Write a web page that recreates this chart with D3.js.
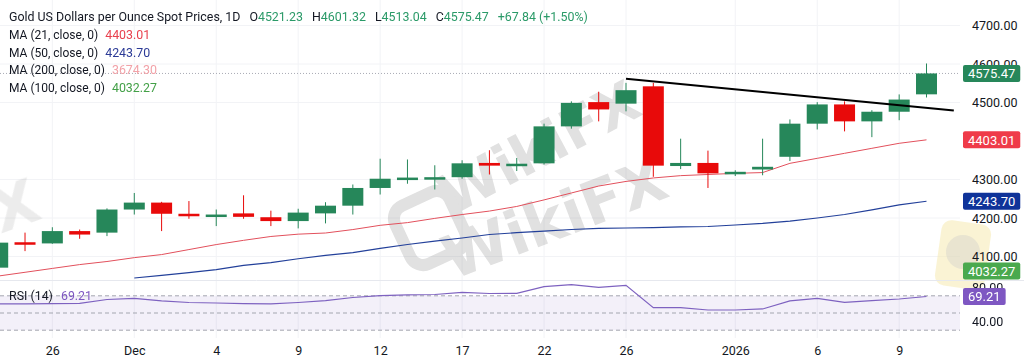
<!DOCTYPE html>
<html>
<head>
<meta charset="utf-8">
<script src="https://cdn.jsdelivr.net/npm/d3@7"></script>
<style>
  body { margin: 0; background: #fff; }
  svg { display: block; font-family: Roboto, "Noto Sans", sans-serif; }
</style>
</head>
<body>
<div id="chart"></div>
<script>
// daily bars, Nov 24 2025 -> Jan 12 2026
const dates = ["2025-11-24","2025-11-25","2025-11-26","2025-11-27","2025-11-28",
  "2025-12-01","2025-12-02","2025-12-03","2025-12-04","2025-12-05",
  "2025-12-08","2025-12-09","2025-12-10","2025-12-11","2025-12-12",
  "2025-12-15","2025-12-16","2025-12-17","2025-12-18","2025-12-19",
  "2025-12-22","2025-12-23","2025-12-24","2025-12-26",
  "2025-12-29","2025-12-30","2025-12-31","2026-01-01","2026-01-02",
  "2026-01-05","2026-01-06","2026-01-07","2026-01-08","2026-01-09","2026-01-12"];
const open  = [4071,4137,4134,4166,4162,4222,4240,4211,4206,4212,4202,4192,4212,4232,4278,4302,4303,4306,4343,4336,
  4342,4438,4501,4497,4542,4335,4343,4315,4326,4359,4445,4495,4451,4476,4521.23];
const high  = [4142,4162,4176,4170,4225,4265,4242,4244,4222,4259,4219,4224,4241,4287,4354,4352,4337,4350,4376,4356,
  4445,4503,4528,4551,4551,4406,4375,4324,4406,4456,4501,4503,4480,4521,4601.32];
const low   = [4065,4114,4133,4146,4153,4209,4166,4198,4179,4198,4179,4173,4186,4209,4261,4289,4274,4302,4313,4322,
  4339,4432,4451,4477,4307,4327,4278,4309,4311,4348,4430,4425,4410,4454,4513.04];
const close = [4136,4134,4166,4157,4222,4240,4211,4206,4209,4203,4192,4214,4232,4278,4302,4305,4306,4342,4336,4341,
  4438,4499,4482,4532,4336,4343,4316,4320,4333,4445,4495,4451,4476,4507.63,4575.47];
const ma21 = [4049,4059,4069,4079,4087,4097,4105,4118,4131,4142,4152,4158,4161,4170,4181,4188,4199,4209,4218,4230,
  4247,4265,4283,4295,4304,4310,4313,4316,4318,4342,4355,4368,4381,4394,4403.01];
const ma50 = [null,null,null,null,null,4044,4051,4058,4066,4077,4084,4094,4103,4110,4121,4131,4140,4148,4157,4162,
  4166,4170,4173,4174,4175,4177,4178,4182,4186,4192,4200,4209,4221,4234,4243.70];
const rsi = [60.5,60.5,60.8,61.3,65.7,67.1,64.0,62.2,61.6,61.0,60.5,62.2,64.5,68.0,70.3,71.0,71.5,74.0,72.7,72.9,
  80.6,82.9,79.9,82.2,56.2,56.2,53.5,53.5,54.7,64.0,67.1,62.4,64.3,66.3,69.21];

// hand-drawn resistance line (bar index, price)
const trendIdx = [23, 35];
const trendPrice = [4562, 4479];

const priceTicks = [4100, 4200, 4300, 4500, 4600, 4700]; // 4400 sits under the MA21 tag
const rsiTicks = [40, 80];
const rsiBands = [70, 50, 30];
const tickDates = ["2025-11-26","2025-12-01","2025-12-04","2025-12-09","2025-12-12","2025-12-17",
  "2025-12-22","2025-12-26","2026-01-01","2026-01-06","2026-01-09"];
const tickLabels = ["26","Dec","4","9","12","17","22","26","2026","6","9"];

const width = 1024, height = 364;
const plotRight = 960, mainBottom = 280, rsiTop = 281, rsiBottom = 338;
const green = "#26875a", red = "#e80a0a";

const svg = d3.select("#chart").append("svg")
  .attr("width", width).attr("height", height);

const x = d3.scaleLinear().domain([0, dates.length - 1]).range([-2.3, 926.5]);
const y = d3.scaleLinear().domain([4100, 4700]).range([256.5, 25.5]);
const yr = d3.scaleLinear().domain([30, 70]).range([330.2, 295.8]);
const bodyW = 21;

svg.append("clipPath").attr("id", "mainClip")
  .append("rect").attr("x", 0).attr("y", 0).attr("width", plotRight).attr("height", mainBottom);
svg.append("clipPath").attr("id", "rsiClip")
  .append("rect").attr("x", 0).attr("y", rsiTop).attr("width", plotRight).attr("height", rsiBottom - rsiTop);

// grid
const grid = svg.append("g");
grid.selectAll(".vg").data(tickDates).enter().append("line")
  .attr("x1", d => x(dates.indexOf(d))).attr("x2", d => x(dates.indexOf(d)))
  .attr("y1", 0).attr("y2", rsiBottom)
  .attr("stroke", "#f2f3f6");
grid.selectAll(".hg").data(priceTicks).enter().append("line")
  .attr("x1", 0).attr("x2", plotRight)
  .attr("y1", d => y(d)).attr("y2", d => y(d))
  .attr("stroke", "#f2f3f6");

// watermark
const wm = svg.append("g").attr("fill", "#8a8a8a").attr("opacity", 0.26)
  .style("font-weight", "bold").style("font-family", "DejaVu Sans, sans-serif");
wm.append("text").attr("transform", "translate(548,165) rotate(-28)")
  .attr("text-anchor", "middle").attr("font-size", 56).text("WikiFX");
wm.append("text").attr("transform", "translate(562,238) rotate(-21)")
  .attr("text-anchor", "middle").attr("font-size", 60).text("WikiFX");
wm.append("text").attr("transform", "translate(22,226) rotate(-20)")
  .attr("text-anchor", "middle").attr("font-size", 60).attr("opacity", 0.6).text("X");
wm.append("rect").attr("transform", "translate(430,228) rotate(-25)")
  .attr("x", -30).attr("y", -32).attr("width", 60).attr("height", 64).attr("rx", 14)
  .attr("fill", "none").attr("stroke", "#8a8a8a").attr("stroke-width", 12);
svg.append("rect").attr("transform", "translate(963,255) rotate(8)")
  .attr("x", -25).attr("y", -33).attr("width", 50).attr("height", 66).attr("rx", 10)
  .attr("fill", "#f6eab0").attr("opacity", 0.55);
svg.append("circle").attr("cx", 963).attr("cy", 252).attr("r", 17)
  .attr("fill", "#c8c8c8").attr("opacity", 0.35);

// last price dotted line
svg.append("line")
  .attr("x1", 0).attr("x2", plotRight)
  .attr("y1", y(close[close.length - 1])).attr("y2", y(close[close.length - 1]))
  .attr("stroke", "#a8abb4").attr("stroke-dasharray", "1,2");

const main = svg.append("g").attr("clip-path", "url(#mainClip)");

// moving averages
const maLine = d3.line().defined(d => d != null).x((d, i) => x(i)).y(d => y(d));
main.append("path").datum(ma21).attr("d", maLine)
  .attr("fill", "none").attr("stroke", "#e2505c").attr("stroke-width", 1);
main.append("path").datum(ma50).attr("d", maLine)
  .attr("fill", "none").attr("stroke", "#23409a").attr("stroke-width", 1.1);

// candles
const idx = d3.range(dates.length);
const col = i => close[i] >= open[i] ? green : red;
main.selectAll(".wick").data(idx).enter().append("line")
  .attr("x1", i => x(i)).attr("x2", i => x(i))
  .attr("y1", i => y(high[i])).attr("y2", i => y(low[i]))
  .attr("stroke", col).attr("stroke-width", 1);
main.selectAll(".body").data(idx).enter().append("rect")
  .attr("x", i => x(i) - bodyW / 2).attr("width", bodyW)
  .attr("y", i => y(Math.max(open[i], close[i])))
  .attr("height", i => Math.max(2.5, Math.abs(y(open[i]) - y(close[i]))))
  .attr("fill", col);

// trendline
main.append("line")
  .attr("x1", x(trendIdx[0])).attr("y1", y(trendPrice[0]))
  .attr("x2", x(trendIdx[1])).attr("y2", y(trendPrice[1]))
  .attr("stroke", "#000").attr("stroke-width", 2);

// pane separator
svg.append("line").attr("x1", 0).attr("x2", width).attr("y1", mainBottom + 0.5).attr("y2", mainBottom + 0.5)
  .attr("stroke", "#e6e8ee");

// RSI pane
const rsiG = svg.append("g").attr("clip-path", "url(#rsiClip)");
rsiG.append("rect").attr("x", 0).attr("width", plotRight)
  .attr("y", yr(70)).attr("height", yr(30) - yr(70))
  .attr("fill", "#7e57c2").attr("opacity", 0.09);
rsiG.selectAll(".band").data(rsiBands).enter().append("line")
  .attr("x1", 0).attr("x2", plotRight)
  .attr("y1", d => yr(d)).attr("y2", d => yr(d))
  .attr("stroke", "#a3a6af").attr("stroke-dasharray", "4,3");
rsiG.append("path").datum(rsi)
  .attr("d", d3.line().x((d, i) => x(i)).y(d => yr(d)))
  .attr("fill", "none").attr("stroke", "#7e62c0").attr("stroke-width", 1.2);

// axes
const axisFont = g => g.selectAll("text").attr("fill", "#131722").attr("font-size", 12.5)
  .style("font-family", "Roboto, sans-serif");
const yAxis = svg.append("g").attr("transform", `translate(966,0)`)
  .call(d3.axisRight(y).tickValues(priceTicks).tickFormat(d3.format(".2f")).tickSize(0).tickPadding(6));
yAxis.select(".domain").remove();
axisFont(yAxis);
const rAxisG = svg.append("g").attr("clip-path", "url(#rsiAxisClip)");
svg.append("clipPath").attr("id", "rsiAxisClip")
  .append("rect").attr("x", 960).attr("y", mainBottom + 2).attr("width", 64).attr("height", 60);
const rAxis = rAxisG.append("g").attr("transform", `translate(966,0)`)
  .call(d3.axisRight(yr).tickValues(rsiTicks).tickFormat(d3.format(".2f")).tickSize(0).tickPadding(6));
rAxis.select(".domain").remove();
axisFont(rAxis);

const xAxis = svg.append("g").attr("transform", `translate(0,${rsiBottom + 3})`)
  .call(d3.axisBottom(x).tickValues(tickDates.map(d => dates.indexOf(d)))
    .tickFormat((d, i) => tickLabels[i]).tickSize(0).tickPadding(5));
xAxis.select(".domain").remove();
axisFont(xAxis);

// price labels on the right scale
const labels = [
  { v: close[close.length - 1], yy: y(close[close.length - 1]), c: green },
  { v: ma21[ma21.length - 1], yy: y(ma21[ma21.length - 1]), c: "#ef3b49" },
  { v: ma50[ma50.length - 1], yy: y(ma50[ma50.length - 1]), c: "#0f3399" },
  { v: 4032.27, yy: Math.min(y(4032.27), 271), c: "#4aa94e" },
  { v: rsi[rsi.length - 1], yy: yr(rsi[rsi.length - 1]), c: "#7e57c2" }
];
const lab = svg.selectAll(".lab").data(labels).enter().append("g")
  .attr("transform", d => `translate(963,${d.yy})`);
lab.append("rect").attr("y", -8.5).attr("height", 17).attr("rx", 2).attr("fill", d => d.c);
lab.append("text").attr("x", 5).attr("dy", "0.36em").attr("fill", "#fff").attr("font-size", 13)
  .text(d => d.v.toFixed(2))
  .each(function () {
    const w = this.getComputedTextLength();
    d3.select(this.parentNode).select("rect").attr("width", w + 10);
  });

// legend block
const legend = svg.append("g").attr("fill", "#131722");
const hdr = legend.append("text").attr("x", 9).attr("y", 17).attr("dy", "0.35em").attr("font-size", 12.4);
hdr.append("tspan").text("Gold US Dollars per Ounce Spot Prices, 1D");
const ohlc = [["O", open], ["H", high], ["L", low], ["C", close]];
ohlc.forEach(([k, arr], i) => {
  hdr.append("tspan").attr("dx", 9).text(k);
  hdr.append("tspan").attr("fill", "#2a9a68").text(arr[arr.length - 1].toFixed(2));
});
hdr.append("tspan").attr("dx", 9).attr("fill", "#2a9a68").text("+67.84 (+1.50%)");

const maRows = [
  ["MA (21, close, 0)", "4403.01", "#e8414e"],
  ["MA (50, close, 0)", "4243.70", "#2b3a96"],
  ["MA (200, close, 0)", "3674.30", "#f2a2a8"],
  ["MA (100, close, 0)", "4032.27", "#43a047"]
];
maRows.forEach((r, i) => {
  const t = legend.append("text").attr("x", 9).attr("y", 35 + i * 17.5).attr("dy", "0.35em")
    .attr("font-size", 12);
  t.append("tspan").text(r[0]);
  t.append("tspan").attr("dx", 7).attr("font-size", 12.4).attr("fill", r[2]).text(r[1]);
});

const rl = legend.append("text").attr("x", 9).attr("y", 296).attr("dy", "0.35em").attr("font-size", 12.4);
rl.append("tspan").text("RSI (14)");
rl.append("tspan").attr("dx", 8).attr("fill", "#7e57c2").text("69.21");
</script>
</body>
</html>
